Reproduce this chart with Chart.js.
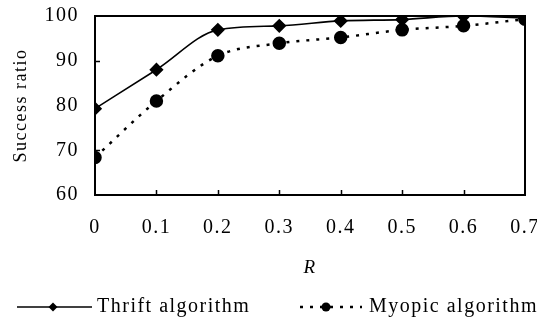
<!DOCTYPE html>
<html><head><meta charset="utf-8">
<script src="https://cdn.jsdelivr.net/npm/chart.js@4/dist/chart.umd.min.js"></script>
<style>html,body{margin:0;padding:0;background:#fff}#wrap{width:537px;height:324px;position:relative}</style>
</head><body><div id="wrap"><canvas id="c" width="537" height="324"></canvas></div>
<script>
const rValues = [0, 0.1, 0.2, 0.3, 0.4, 0.5, 0.6, 0.7];
const thrift = [79.3, 88, 96.9, 97.8, 98.9, 99.2, 100, 99.5];
const myopic = [68.4, 81, 91.1, 93.9, 95.2, 96.9, 97.8, 99.3];
const yTicks = [60, 70, 80, 90, 100];
const xTicks = [0, 0.1, 0.2, 0.3, 0.4, 0.5, 0.6, 0.7];
const seriesNames = ['Thrift algorithm', 'Myopic algorithm'];
const xTitle = 'R';
const yTitle = 'Success ratio';

const FONT = 'Liberation Serif';

const deco = {
  id: 'deco',
  beforeLayout(chart) { chart.ctx.letterSpacing = '1.5px'; },
  beforeDraw(chart) { chart.ctx.letterSpacing = '1.5px'; },
  afterDraw(chart) {
    const ctx = chart.ctx;
    const a = chart.chartArea;
    const xs = chart.scales.x, ys = chart.scales.y;
    ctx.save();
    ctx.strokeStyle = '#000';
    ctx.lineWidth = 2;
    ctx.beginPath();
    ctx.moveTo(a.left, a.top); ctx.lineTo(a.right, a.top); ctx.lineTo(a.right, a.bottom);
    ctx.stroke();
    ctx.lineWidth = 1.5;
    ctx.beginPath();
    xTicks.slice(1, -1).forEach(v => { const px = Math.round(xs.getPixelForValue(v)) + 0.5; ctx.moveTo(px, a.bottom); ctx.lineTo(px, a.bottom - 5); });
    yTicks.slice(1, -1).forEach(v => { const py = Math.round(ys.getPixelForValue(v)) + 0.5; ctx.moveTo(a.left, py); ctx.lineTo(a.left + 5, py); });
    ctx.stroke();
    // legend
    const ly = 307;
    const ds = chart.data.datasets;
    ctx.font = '20px "' + FONT + '"';
    ctx.letterSpacing = '1.5px';
    ctx.textBaseline = 'middle';
    ctx.fillStyle = '#000';
    const items = [{x0: 17, x1: 92, mx: 53, tx: 97}, {x0: 300, x1: 362, mx: 326, tx: 369}];
    items.forEach((it, i) => {
      const d = ds[i];
      ctx.lineWidth = d.borderWidth;
      ctx.setLineDash(d.borderDash || []);
      ctx.beginPath(); ctx.moveTo(it.x0, ly); ctx.lineTo(it.x1, ly); ctx.stroke();
      ctx.setLineDash([]);
      ctx.beginPath();
      if (d.pointStyle === 'rectRot') {
        const r = 4.5;
        ctx.moveTo(it.mx, ly - r); ctx.lineTo(it.mx + r, ly); ctx.lineTo(it.mx, ly + r); ctx.lineTo(it.mx - r, ly);
      } else {
        ctx.arc(it.mx, ly, 4.5, 0, Math.PI * 2);
      }
      ctx.fill();
      ctx.fillText(d.label, it.tx, ly);
    });
    ctx.restore();
  }
};

new Chart(document.getElementById('c'), {
  type: 'line',
  data: {
    datasets: [
      {
        label: seriesNames[0],
        data: rValues.map((r, i) => ({x: r, y: thrift[i]})),
        borderColor: '#000', backgroundColor: '#000',
        borderWidth: 1.6, pointStyle: 'rectRot', pointRadius: 6, pointHoverRadius: 6,
        cubicInterpolationMode: 'monotone'
      },
      {
        label: seriesNames[1],
        data: rValues.map((r, i) => ({x: r, y: myopic[i]})),
        borderColor: '#000', backgroundColor: '#000',
        borderWidth: 2.5, borderDash: [3, 7], borderCapStyle: 'butt', pointStyle: 'circle', pointRadius: 5.5, pointHoverRadius: 5.5,
        cubicInterpolationMode: 'monotone'
      }
    ]
  },
  options: {
    responsive: false, animation: false, devicePixelRatio: 1,
    layout: {padding: {left: 10, right: 12, top: 16, bottom: 45}},
    plugins: {legend: {display: false}, tooltip: {enabled: false}},
    scales: {
      x: {
        type: 'linear', min: 0, max: 0.7,
        afterBuildTicks(s) { s.ticks = xTicks.map(v => ({value: v})); },
        afterFit(s) { s.height = 84; s.paddingLeft = 0; s.paddingRight = 0; },
        grid: {display: false, drawTicks: false},
        border: {display: true, color: '#000', width: 2},
        ticks: {color: '#000', font: {family: FONT, size: 20}, padding: 21, maxRotation: 0, autoSkip: false,
          callback: v => String(v)},
        title: {display: true, text: xTitle, color: '#000', font: {family: FONT, size: 19, style: 'italic'}, padding: {top: 0, bottom: 0}}
      },
      y: {
        min: 60, max: 100,
        afterBuildTicks(s) { s.ticks = yTicks.map(v => ({value: v})); },
        afterFit(s) { s.width = 85; s.paddingTop = 0; s.paddingBottom = 0; },
        grid: {display: false, drawTicks: false},
        border: {display: true, color: '#000', width: 2},
        ticks: {color: '#000', font: {family: FONT, size: 20}, padding: 16},
        title: {display: true, text: yTitle, color: '#000', font: {family: FONT, size: 18}, padding: {top: 0, bottom: 0}}
      }
    }
  },
  plugins: [deco]
});
</script>
</body></html>
